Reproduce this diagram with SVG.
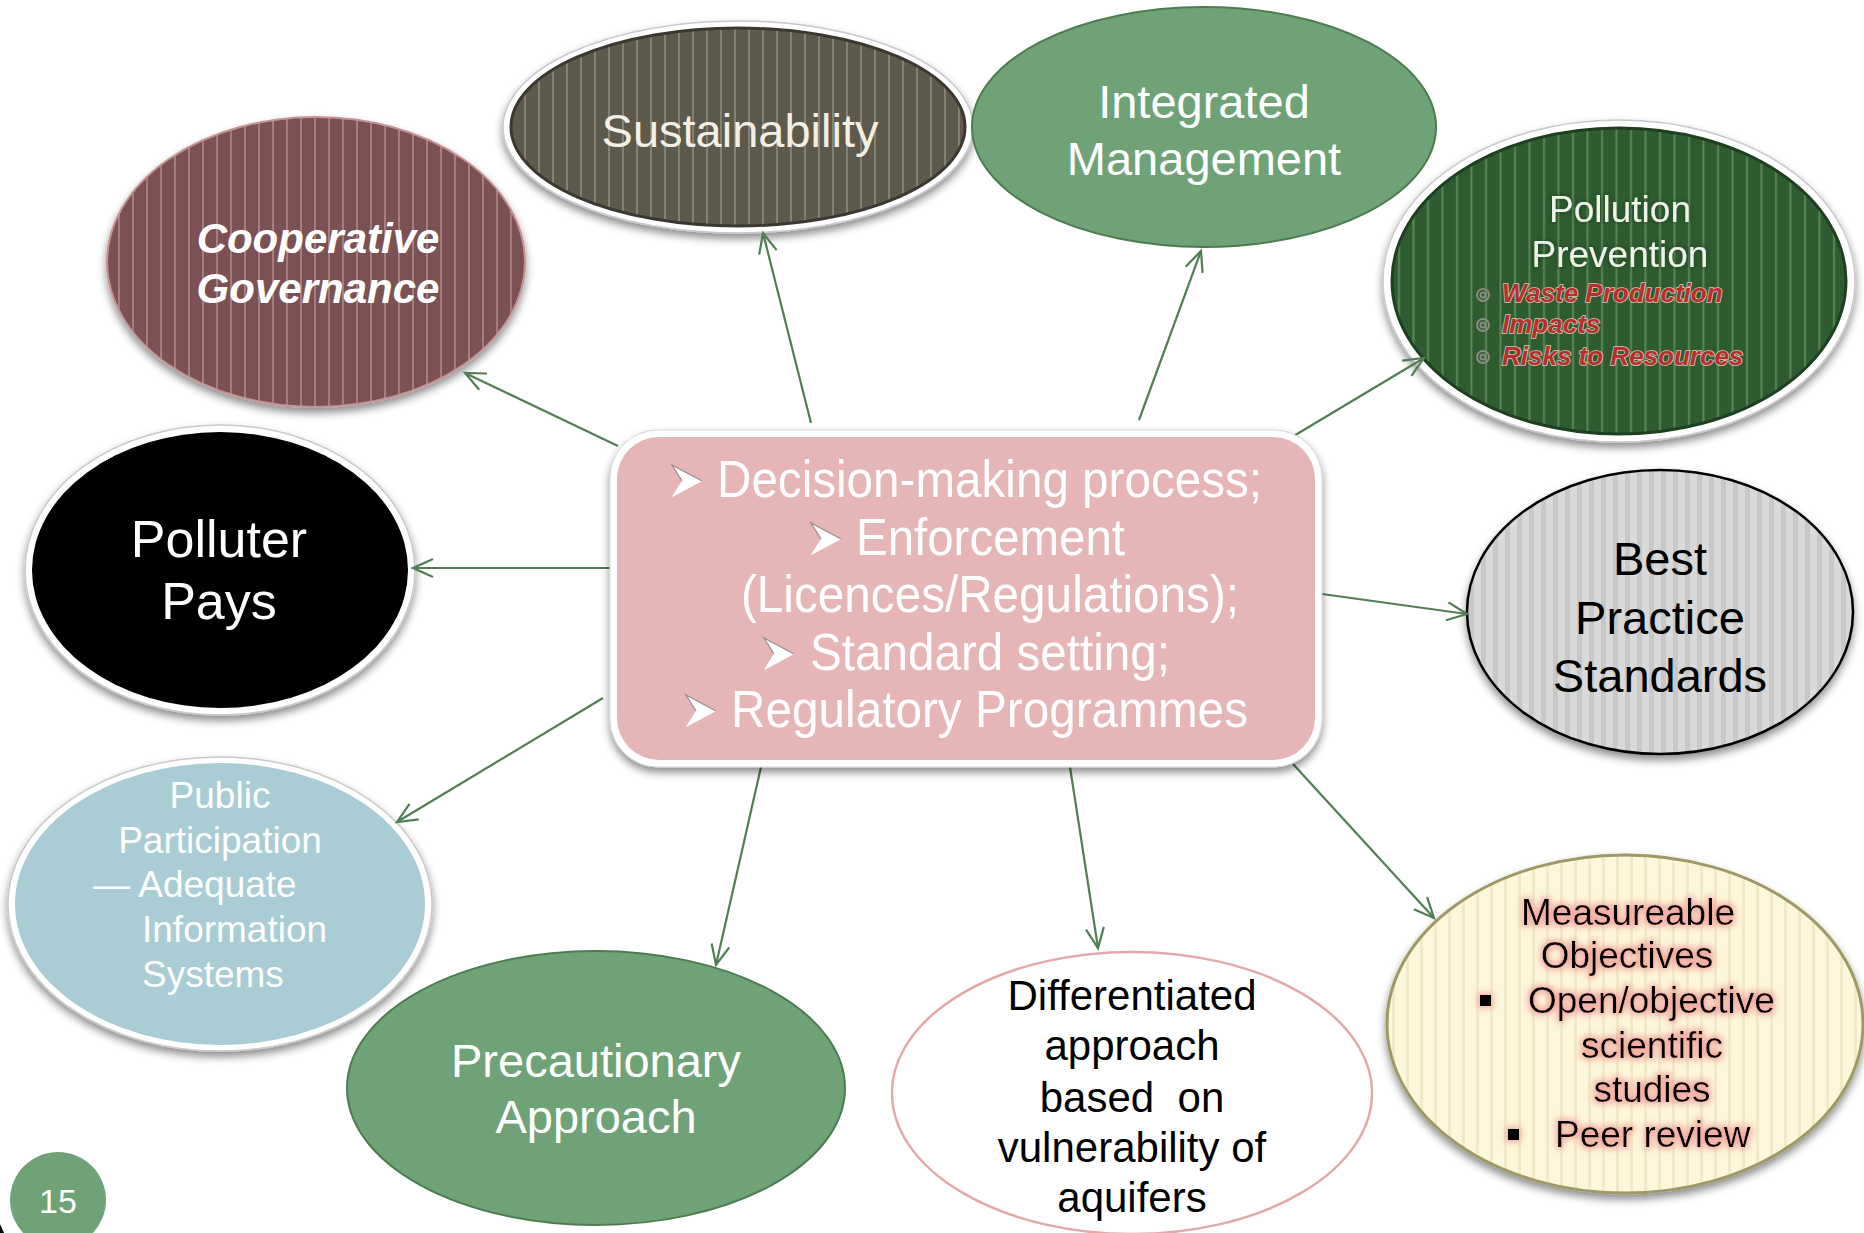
<svg xmlns="http://www.w3.org/2000/svg" width="1864" height="1233" viewBox="0 0 1864 1233">
  <defs>
    <style>
      .t { font-family: "Liberation Sans", Arial, sans-serif; text-anchor: middle; }
      .w { fill: #ffffff; }
      .k { fill: #000000; }
      .start { text-anchor: start; }
      .conn { stroke: #4f7f53; stroke-width: 2.2; fill: none; marker-end: url(#arrow); }
      .rim { fill: #ffffff; stroke: #c9c9c9; stroke-width: 1.5; }
      .bi { font-weight: bold; font-style: italic; }
      .sub { font-size: 26px; fill: #b5302c; stroke: #d9c4b8; stroke-width: 1.6; paint-order: stroke; }
    </style>
    <marker id="arrow" markerUnits="userSpaceOnUse" markerWidth="26" markerHeight="26" viewBox="0 0 26 26" refX="23" refY="13" orient="auto">
      <path d="M3,4 L23,13 L3,22" fill="none" stroke="#4f7f53" stroke-width="2.2"/>
    </marker>
    <!-- 3D arrowhead bullet used in the central box -->
    <g id="bullet">
      <polygon points="0,-32 30,-16 0,0 10,-16" fill="#ffffff"/>
      <polyline points="10,-16 0,-32 30,-16" fill="none" stroke="#9a8f8f" stroke-width="1.3" stroke-linejoin="miter"/>
      <polygon points="10,-16 30,-16 0,0" fill="#ffffff"/>
    </g>
    <filter id="shadow" x="-10%" y="-10%" width="120%" height="130%">
      <feDropShadow dx="0" dy="5" stdDeviation="4" flood-color="#000" flood-opacity="0.45"/>
    </filter>
    <filter id="pinkglow" x="-10%" y="-30%" width="120%" height="160%">
      <feMorphology in="SourceAlpha" operator="dilate" radius="2" result="d"/>
      <feGaussianBlur in="d" stdDeviation="3" result="b"/>
      <feFlood flood-color="#f2a79c" flood-opacity="0.95"/>
      <feComposite in2="b" operator="in" result="g"/>
      <feMerge><feMergeNode in="g"/><feMergeNode in="SourceGraphic"/></feMerge>
    </filter>
    <filter id="softglow" x="-10%" y="-30%" width="120%" height="160%">
      <feGaussianBlur in="SourceAlpha" stdDeviation="2" result="b"/>
      <feFlood flood-color="#1b3a1c" flood-opacity="0.8"/>
      <feComposite in2="b" operator="in" result="g"/>
      <feMerge><feMergeNode in="g"/><feMergeNode in="SourceGraphic"/></feMerge>
    </filter>
    <pattern id="pRed" patternUnits="userSpaceOnUse" x="0" y="0" width="14" height="10">
      <rect width="14" height="10" fill="#7b5152"/>
      <rect x="6" width="2" height="10" fill="#a57d7d"/>
    </pattern>
    <pattern id="pDark" patternUnits="userSpaceOnUse" x="0" y="0" width="14" height="10">
      <rect width="14" height="10" fill="#5d5a4c"/>
      <rect x="6" width="2" height="10" fill="#858172"/>
    </pattern>
    <pattern id="pGreen" patternUnits="userSpaceOnUse" x="0" y="0" width="14.5" height="10">
      <rect width="14.5" height="10" fill="#2e5b30"/>
      <rect x="6" width="2" height="10" fill="#5a8658"/>
    </pattern>
    <pattern id="pGray" patternUnits="userSpaceOnUse" x="0" y="0" width="12" height="10">
      <rect width="12" height="10" fill="#d9d9d9"/>
      <rect x="5" width="5" height="10" fill="#c8c8c8"/>
    </pattern>
    <pattern id="pCream" patternUnits="userSpaceOnUse" x="0" y="0" width="14" height="10">
      <rect width="14" height="10" fill="#fcf6db"/>
      <rect x="6" width="3" height="10" fill="#f1e9c7"/>
    </pattern>
  </defs>

  <rect width="1864" height="1233" fill="#ffffff"/>

  <!-- Nodes -->
  <g id="node-sustainability">
    <ellipse cx="738" cy="127" rx="235" ry="106" class="rim" filter="url(#shadow)"/>
    <ellipse cx="738" cy="127" rx="227" ry="99" fill="url(#pDark)" stroke="#3a382f" stroke-width="3"/>
    <text class="t" x="740" y="147" font-size="47" fill="#f3efe4">Sustainability</text>
  </g>

  <g id="node-integrated">
    <ellipse cx="1204" cy="127" rx="232" ry="120" fill="#70a277" stroke="#4c7c50" stroke-width="2"/>
    <text class="t w" x="1204" y="118" font-size="47">Integrated</text>
    <text class="t w" x="1204" y="175" font-size="47">Management</text>
  </g>

  <g id="node-cooperative">
    <ellipse cx="316" cy="262" rx="209" ry="145" fill="url(#pRed)" stroke="#c39494" stroke-width="2" filter="url(#shadow)"/>
    <text class="t w bi" x="318" y="253" font-size="42">Cooperative</text>
    <text class="t w bi" x="318" y="303" font-size="42">Governance</text>
  </g>

  <g id="node-pollution">
    <ellipse cx="1619" cy="281" rx="236" ry="161" class="rim" filter="url(#shadow)"/>
    <ellipse cx="1619" cy="281" rx="227" ry="153" fill="url(#pGreen)" stroke="#1f3f21" stroke-width="3"/>
    <g filter="url(#softglow)">
      <text class="t" x="1620" y="222" font-size="37" fill="#eef3e8">Pollution</text>
      <text class="t" x="1620" y="267" font-size="37" fill="#eef3e8">Prevention</text>
    </g>
    <g fill="none" stroke="#8a8a80" stroke-width="2">
      <circle cx="1483" cy="295" r="6"/><circle cx="1483" cy="295" r="2.5"/>
      <circle cx="1483" cy="325" r="6"/><circle cx="1483" cy="325" r="2.5"/>
      <circle cx="1483" cy="357" r="6"/><circle cx="1483" cy="357" r="2.5"/>
    </g>
    <text class="t start bi sub" x="1502" y="302">Waste Production</text>
    <text class="t start bi sub" x="1502" y="333">Impacts</text>
    <text class="t start bi sub" x="1502" y="365">Risks to Resources</text>
  </g>

  <g id="node-polluter">
    <ellipse cx="220" cy="570" rx="195" ry="145" class="rim" filter="url(#shadow)"/>
    <ellipse cx="220" cy="570" rx="188" ry="138" fill="#000000"/>
    <text class="t w" x="219" y="557" font-size="52">Polluter</text>
    <text class="t w" x="219" y="619" font-size="52">Pays</text>
  </g>

  <g id="node-bestpractice">
    <ellipse cx="1660" cy="612" rx="193" ry="142" fill="url(#pGray)" stroke="#000000" stroke-width="2.5" filter="url(#shadow)"/>
    <text class="t k" x="1660" y="575" font-size="47">Best</text>
    <text class="t k" x="1660" y="634" font-size="47">Practice</text>
    <text class="t k" x="1660" y="692" font-size="47">Standards</text>
  </g>

  <g id="node-public">
    <ellipse cx="220" cy="904" rx="212" ry="147" class="rim" filter="url(#shadow)"/>
    <ellipse cx="220" cy="904" rx="205" ry="141" fill="#a9ccd5"/>
    <text class="t w" x="220" y="808" font-size="37">Public</text>
    <text class="t w" x="220" y="853" font-size="37">Participation</text>
    <text class="t w start" x="93" y="897" font-size="37">— Adequate</text>
    <text class="t w start" x="142" y="942" font-size="37">Information</text>
    <text class="t w start" x="142" y="987" font-size="37">Systems</text>
  </g>

  <g id="node-precautionary">
    <ellipse cx="596" cy="1088" rx="249" ry="137" fill="#70a277" stroke="#4c7c50" stroke-width="2"/>
    <text class="t w" x="596" y="1077" font-size="47">Precautionary</text>
    <text class="t w" x="596" y="1133" font-size="47">Approach</text>
  </g>

  <g id="node-differentiated">
    <ellipse cx="1132" cy="1093" rx="240" ry="141" fill="#ffffff" stroke="#e3a9a9" stroke-width="2.5"/>
    <text class="t k" x="1132" y="1010" font-size="42">Differentiated</text>
    <text class="t k" x="1132" y="1060" font-size="42">approach</text>
    <text class="t k" x="1132" y="1112" font-size="42">based&#160; on</text>
    <text class="t k" x="1132" y="1162" font-size="42">vulnerability of</text>
    <text class="t k" x="1132" y="1212" font-size="42">aquifers</text>
  </g>

  <g id="node-measureable">
    <ellipse cx="1625" cy="1024" rx="238" ry="169" fill="url(#pCream)" stroke="#9f9966" stroke-width="3" filter="url(#shadow)"/>
    <g filter="url(#pinkglow)">
      <text class="t k" x="1628" y="925" font-size="37">Measureable</text>
      <text class="t k" x="1627" y="968" font-size="37">Objectives</text>
      <rect x="1480" y="995" width="11" height="11" fill="#000"/>
      <text class="t k start" x="1528" y="1013" font-size="37">Open/objective</text>
      <text class="t k" x="1652" y="1058" font-size="37">scientific</text>
      <text class="t k" x="1652" y="1102" font-size="37">studies</text>
      <rect x="1508" y="1129" width="11" height="11" fill="#000"/>
      <text class="t k start" x="1555" y="1147" font-size="37">Peer review</text>
    </g>
  </g>

  <!-- Connectors from the central box -->
  <g id="connectors">
    <line class="conn" x1="618" y1="446" x2="465" y2="373"/>
    <line class="conn" x1="811" y1="423" x2="763" y2="233"/>
    <line class="conn" x1="1139" y1="420" x2="1201" y2="251"/>
    <line class="conn" x1="1292" y1="437" x2="1424" y2="358"/>
    <line class="conn" x1="618" y1="568" x2="413" y2="568"/>
    <line class="conn" x1="1322" y1="594" x2="1467" y2="614"/>
    <line class="conn" x1="603" y1="698" x2="397" y2="822"/>
    <line class="conn" x1="761" y1="767" x2="716" y2="965"/>
    <line class="conn" x1="1070" y1="767" x2="1098" y2="948"/>
    <line class="conn" x1="1293" y1="764" x2="1434" y2="918"/>
  </g>

  <g id="node-center">
    <rect x="610" y="430" width="712" height="337" rx="48" fill="#ffffff" stroke="#d6d6d6" stroke-width="1" filter="url(#shadow)"/>
    <rect x="617" y="437" width="698" height="323" rx="42" fill="#e6b5b5"/>
    <use href="#bullet" x="672" y="497"/>
    <use href="#bullet" x="811" y="555"/>
    <use href="#bullet" x="764" y="670"/>
    <use href="#bullet" x="686" y="727"/>
    <g class="w" font-family="Liberation Sans, Arial, sans-serif" font-size="52">
      <text x="717" y="497" textLength="545" lengthAdjust="spacingAndGlyphs">Decision-making process;</text>
      <text x="856" y="555" textLength="269" lengthAdjust="spacingAndGlyphs">Enforcement</text>
      <text x="741" y="612" textLength="498" lengthAdjust="spacingAndGlyphs">(Licences/Regulations);</text>
      <text x="810" y="670" textLength="360" lengthAdjust="spacingAndGlyphs">Standard setting;</text>
      <text x="731" y="727" textLength="517" lengthAdjust="spacingAndGlyphs">Regulatory Programmes</text>
    </g>
  </g>

  <g id="page-number">
    <circle cx="58" cy="1200" r="48" fill="#70a277"/>
    <text class="t w" x="58" y="1213" font-size="34">15</text>
  </g>
  <path d="M0,1224 L4,1233 L0,1233 Z" fill="#000"/>
</svg>
